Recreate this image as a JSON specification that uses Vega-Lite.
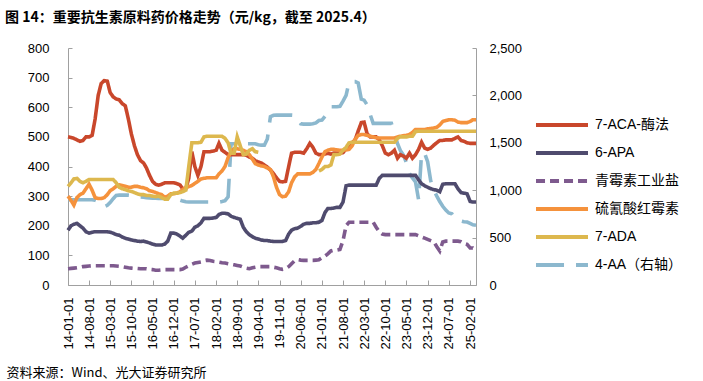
{
  "$schema": "https://vega.github.io/schema/vega-lite/v6.json",
  "autosize": "none",
  "width": 408,
  "height": 237,
  "padding": {"left": 68, "top": 48, "right": 227, "bottom": 96},
  "background": "white",
  "title": {
    "text": "图 14：重要抗生素原料药价格走势（元/kg，截至 2025.4）",
    "anchor": "start",
    "frame": "group",
    "dx": -63,
    "offset": 17,
    "font": "Noto Sans CJK SC",
    "fontSize": 14,
    "fontWeight": "bold",
    "color": "#000000"
  },
  "config": {
    "view": {"stroke": null},
    "axis": {
      "grid": false,
      "domainColor": "#A0A0A0",
      "tickColor": "#A0A0A0",
      "labelFont": "Liberation Sans",
      "labelFontSize": 13,
      "labelColor": "#000000"
    }
  },
  "data": {
    "values": [
      {"d":"2014-01","aca":500,"apa":185,"pen":55,"ery":300,"ada":333,"aa4":900},
      {"d":"2014-02","aca":498,"apa":200,"pen":56,"ery":285,"ada":345,"aa4":900},
      {"d":"2014-03","aca":495,"apa":205,"pen":57,"ery":270,"ada":358,"aa4":900},
      {"d":"2014-04","aca":490,"apa":208,"pen":58,"ery":295,"ada":360,"aa4":900},
      {"d":"2014-05","aca":485,"apa":200,"pen":60,"ery":305,"ada":350,"aa4":900},
      {"d":"2014-06","aca":488,"apa":192,"pen":62,"ery":310,"ada":345,"aa4":900},
      {"d":"2014-07","aca":500,"apa":180,"pen":63,"ery":325,"ada":350,"aa4":900},
      {"d":"2014-08","aca":500,"apa":175,"pen":64,"ery":340,"ada":356,"aa4":900},
      {"d":"2014-09","aca":505,"apa":178,"pen":65,"ery":320,"ada":356,"aa4":900},
      {"d":"2014-10","aca":560,"apa":180,"pen":65,"ery":295,"ada":356,"aa4":895},
      {"d":"2014-11","aca":640,"apa":180,"pen":65,"ery":292,"ada":356,"aa4":880},
      {"d":"2014-12","aca":680,"apa":180,"pen":65,"ery":292,"ada":356,"aa4":850},
      {"d":"2015-01","aca":690,"apa":180,"pen":65,"ery":295,"ada":356,"aa4":825},
      {"d":"2015-02","aca":688,"apa":180,"pen":65,"ery":305,"ada":356,"aa4":840},
      {"d":"2015-03","aca":650,"apa":178,"pen":65,"ery":318,"ada":356,"aa4":870},
      {"d":"2015-04","aca":635,"apa":175,"pen":65,"ery":325,"ada":356,"aa4":910},
      {"d":"2015-05","aca":628,"apa":170,"pen":64,"ery":333,"ada":345,"aa4":945},
      {"d":"2015-06","aca":625,"apa":168,"pen":63,"ery":338,"ada":330,"aa4":948},
      {"d":"2015-07","aca":612,"apa":162,"pen":62,"ery":336,"ada":325,"aa4":948},
      {"d":"2015-08","aca":605,"apa":158,"pen":60,"ery":333,"ada":322,"aa4":948},
      {"d":"2015-09","aca":560,"apa":155,"pen":58,"ery":330,"ada":318,"aa4":948},
      {"d":"2015-10","aca":510,"apa":152,"pen":57,"ery":330,"ada":316,"aa4":945},
      {"d":"2015-11","aca":470,"apa":150,"pen":56,"ery":333,"ada":312,"aa4":935},
      {"d":"2015-12","aca":440,"apa":148,"pen":56,"ery":333,"ada":308,"aa4":930},
      {"d":"2016-01","aca":420,"apa":147,"pen":55,"ery":330,"ada":305,"aa4":928},
      {"d":"2016-02","aca":412,"apa":148,"pen":55,"ery":328,"ada":305,"aa4":925},
      {"d":"2016-03","aca":395,"apa":145,"pen":55,"ery":325,"ada":302,"aa4":920},
      {"d":"2016-04","aca":370,"apa":142,"pen":53,"ery":318,"ada":302,"aa4":918},
      {"d":"2016-05","aca":350,"apa":138,"pen":52,"ery":316,"ada":300,"aa4":915},
      {"d":"2016-06","aca":340,"apa":135,"pen":50,"ery":312,"ada":298,"aa4":915},
      {"d":"2016-07","aca":337,"apa":135,"pen":50,"ery":308,"ada":300,"aa4":912},
      {"d":"2016-08","aca":340,"apa":135,"pen":51,"ery":305,"ada":295,"aa4":912},
      {"d":"2016-09","aca":345,"apa":138,"pen":52,"ery":296,"ada":290,"aa4":912},
      {"d":"2016-10","aca":345,"apa":148,"pen":52,"ery":300,"ada":290,"aa4":912},
      {"d":"2016-11","aca":345,"apa":175,"pen":52,"ery":308,"ada":305,"aa4":912},
      {"d":"2016-12","aca":345,"apa":175,"pen":52,"ery":308,"ada":310,"aa4":910},
      {"d":"2017-01","aca":342,"apa":172,"pen":52,"ery":310,"ada":310,"aa4":905},
      {"d":"2017-02","aca":338,"apa":165,"pen":52,"ery":315,"ada":312,"aa4":895},
      {"d":"2017-03","aca":325,"apa":158,"pen":54,"ery":322,"ada":315,"aa4":885},
      {"d":"2017-04","aca":325,"apa":168,"pen":60,"ery":328,"ada":320,"aa4":878},
      {"d":"2017-05","aca":360,"apa":178,"pen":65,"ery":332,"ada":400,"aa4":875},
      {"d":"2017-06","aca":450,"apa":182,"pen":70,"ery":336,"ada":480,"aa4":875},
      {"d":"2017-07","aca":400,"apa":195,"pen":74,"ery":343,"ada":480,"aa4":875},
      {"d":"2017-08","aca":370,"apa":200,"pen":76,"ery":350,"ada":480,"aa4":875},
      {"d":"2017-09","aca":400,"apa":210,"pen":78,"ery":358,"ada":482,"aa4":875},
      {"d":"2017-10","aca":450,"apa":225,"pen":82,"ery":360,"ada":500,"aa4":875},
      {"d":"2017-11","aca":450,"apa":225,"pen":84,"ery":362,"ada":502,"aa4":875},
      {"d":"2017-12","aca":450,"apa":225,"pen":83,"ery":362,"ada":502,"aa4":875},
      {"d":"2018-01","aca":452,"apa":226,"pen":80,"ery":362,"ada":502,"aa4":875},
      {"d":"2018-02","aca":455,"apa":228,"pen":79,"ery":362,"ada":502,"aa4":875},
      {"d":"2018-03","aca":478,"apa":238,"pen":77,"ery":375,"ada":502,"aa4":875},
      {"d":"2018-04","aca":455,"apa":242,"pen":75,"ery":385,"ada":502,"aa4":880},
      {"d":"2018-05","aca":448,"apa":242,"pen":74,"ery":400,"ada":495,"aa4":890},
      {"d":"2018-06","aca":440,"apa":240,"pen":72,"ery":430,"ada":480,"aa4":930},
      {"d":"2018-07","aca":440,"apa":232,"pen":70,"ery":450,"ada":445,"aa4":1490},
      {"d":"2018-08","aca":440,"apa":228,"pen":68,"ery":460,"ada":445,"aa4":1490},
      {"d":"2018-09","aca":440,"apa":225,"pen":66,"ery":460,"ada":500,"aa4":1490},
      {"d":"2018-10","aca":440,"apa":222,"pen":64,"ery":458,"ada":470,"aa4":1490},
      {"d":"2018-11","aca":440,"apa":195,"pen":60,"ery":455,"ada":440,"aa4":1490},
      {"d":"2018-12","aca":438,"apa":180,"pen":57,"ery":450,"ada":442,"aa4":1490},
      {"d":"2019-01","aca":432,"apa":170,"pen":55,"ery":440,"ada":455,"aa4":1490},
      {"d":"2019-02","aca":428,"apa":163,"pen":58,"ery":425,"ada":460,"aa4":1490},
      {"d":"2019-03","aca":420,"apa":158,"pen":60,"ery":410,"ada":450,"aa4":1490},
      {"d":"2019-04","aca":415,"apa":155,"pen":62,"ery":405,"ada":448,"aa4":1480},
      {"d":"2019-05","aca":412,"apa":152,"pen":62,"ery":402,"ada":null,"aa4":1475},
      {"d":"2019-06","aca":405,"apa":150,"pen":62,"ery":400,"ada":null,"aa4":1475},
      {"d":"2019-07","aca":398,"apa":150,"pen":62,"ery":395,"ada":null,"aa4":1540},
      {"d":"2019-08","aca":388,"apa":148,"pen":62,"ery":390,"ada":null,"aa4":1775},
      {"d":"2019-09","aca":376,"apa":147,"pen":60,"ery":365,"ada":null,"aa4":1790},
      {"d":"2019-10","aca":362,"apa":147,"pen":58,"ery":330,"ada":null,"aa4":1792},
      {"d":"2019-11","aca":350,"apa":147,"pen":55,"ery":305,"ada":null,"aa4":1792},
      {"d":"2019-12","aca":348,"apa":147,"pen":53,"ery":298,"ada":null,"aa4":1792},
      {"d":"2020-01","aca":350,"apa":150,"pen":55,"ery":300,"ada":null,"aa4":1792},
      {"d":"2020-02","aca":400,"apa":172,"pen":62,"ery":315,"ada":null,"aa4":1792},
      {"d":"2020-03","aca":445,"apa":185,"pen":72,"ery":345,"ada":null,"aa4":1792},
      {"d":"2020-04","aca":448,"apa":190,"pen":82,"ery":365,"ada":null,"aa4":1790},
      {"d":"2020-05","aca":448,"apa":192,"pen":86,"ery":375,"ada":null,"aa4":1750},
      {"d":"2020-06","aca":448,"apa":198,"pen":84,"ery":375,"ada":null,"aa4":1700},
      {"d":"2020-07","aca":445,"apa":205,"pen":83,"ery":375,"ada":null,"aa4":1697},
      {"d":"2020-08","aca":460,"apa":208,"pen":83,"ery":375,"ada":null,"aa4":1697},
      {"d":"2020-09","aca":478,"apa":208,"pen":83,"ery":375,"ada":null,"aa4":1697},
      {"d":"2020-10","aca":465,"apa":210,"pen":83,"ery":380,"ada":null,"aa4":1700},
      {"d":"2020-11","aca":445,"apa":210,"pen":84,"ery":390,"ada":null,"aa4":1710},
      {"d":"2020-12","aca":440,"apa":212,"pen":85,"ery":410,"ada":385,"aa4":1735},
      {"d":"2021-01","aca":440,"apa":218,"pen":92,"ery":432,"ada":390,"aa4":1740},
      {"d":"2021-02","aca":442,"apa":245,"pen":98,"ery":450,"ada":400,"aa4":1780},
      {"d":"2021-03","aca":445,"apa":258,"pen":105,"ery":455,"ada":400,"aa4":1830},
      {"d":"2021-04","aca":442,"apa":258,"pen":115,"ery":458,"ada":405,"aa4":1880},
      {"d":"2021-05","aca":445,"apa":260,"pen":118,"ery":458,"ada":440,"aa4":1880},
      {"d":"2021-06","aca":445,"apa":262,"pen":118,"ery":456,"ada":440,"aa4":1880},
      {"d":"2021-07","aca":445,"apa":262,"pen":120,"ery":455,"ada":442,"aa4":1885},
      {"d":"2021-08","aca":447,"apa":280,"pen":150,"ery":455,"ada":455,"aa4":1940},
      {"d":"2021-09","aca":460,"apa":335,"pen":200,"ery":456,"ada":465,"aa4":2000},
      {"d":"2021-10","aca":468,"apa":337,"pen":212,"ery":458,"ada":480,"aa4":2140},
      {"d":"2021-11","aca":480,"apa":337,"pen":212,"ery":470,"ada":482,"aa4":2145},
      {"d":"2021-12","aca":490,"apa":337,"pen":212,"ery":492,"ada":482,"aa4":2145},
      {"d":"2022-01","aca":520,"apa":337,"pen":212,"ery":505,"ada":482,"aa4":2130},
      {"d":"2022-02","aca":548,"apa":337,"pen":212,"ery":508,"ada":482,"aa4":1960},
      {"d":"2022-03","aca":550,"apa":337,"pen":212,"ery":508,"ada":482,"aa4":1950},
      {"d":"2022-04","aca":510,"apa":337,"pen":212,"ery":505,"ada":482,"aa4":1900},
      {"d":"2022-05","aca":500,"apa":337,"pen":212,"ery":502,"ada":482,"aa4":1800},
      {"d":"2022-06","aca":500,"apa":337,"pen":212,"ery":500,"ada":482,"aa4":1705},
      {"d":"2022-07","aca":500,"apa":337,"pen":195,"ery":497,"ada":482,"aa4":1705},
      {"d":"2022-08","aca":490,"apa":360,"pen":180,"ery":496,"ada":482,"aa4":1705},
      {"d":"2022-09","aca":470,"apa":370,"pen":172,"ery":496,"ada":482,"aa4":1705},
      {"d":"2022-10","aca":445,"apa":370,"pen":170,"ery":496,"ada":482,"aa4":1705},
      {"d":"2022-11","aca":440,"apa":370,"pen":170,"ery":496,"ada":482,"aa4":1705},
      {"d":"2022-12","aca":445,"apa":370,"pen":170,"ery":496,"ada":482,"aa4":1705},
      {"d":"2023-01","aca":455,"apa":370,"pen":170,"ery":496,"ada":482,"aa4":1600},
      {"d":"2023-02","aca":428,"apa":370,"pen":170,"ery":500,"ada":495,"aa4":1490},
      {"d":"2023-03","aca":440,"apa":370,"pen":170,"ery":502,"ada":500,"aa4":1420},
      {"d":"2023-04","aca":435,"apa":370,"pen":170,"ery":504,"ada":500,"aa4":1370},
      {"d":"2023-05","aca":428,"apa":370,"pen":170,"ery":505,"ada":500,"aa4":1290},
      {"d":"2023-06","aca":445,"apa":370,"pen":170,"ery":508,"ada":502,"aa4":1175},
      {"d":"2023-07","aca":428,"apa":370,"pen":170,"ery":515,"ada":502,"aa4":1130},
      {"d":"2023-08","aca":440,"apa":370,"pen":170,"ery":525,"ada":518,"aa4":1087},
      {"d":"2023-09","aca":458,"apa":355,"pen":166,"ery":525,"ada":519,"aa4":900},
      {"d":"2023-10","aca":482,"apa":342,"pen":162,"ery":525,"ada":519,"aa4":1390},
      {"d":"2023-11","aca":462,"apa":335,"pen":158,"ery":525,"ada":519,"aa4":1390},
      {"d":"2023-12","aca":458,"apa":330,"pen":154,"ery":527,"ada":519,"aa4":1300},
      {"d":"2024-01","aca":462,"apa":325,"pen":150,"ery":528,"ada":519,"aa4":1100},
      {"d":"2024-02","aca":472,"apa":322,"pen":146,"ery":530,"ada":519,"aa4":1000},
      {"d":"2024-03","aca":480,"apa":320,"pen":130,"ery":532,"ada":519,"aa4":940},
      {"d":"2024-04","aca":488,"apa":315,"pen":115,"ery":540,"ada":519,"aa4":880},
      {"d":"2024-05","aca":488,"apa":340,"pen":145,"ery":552,"ada":519,"aa4":830},
      {"d":"2024-06","aca":490,"apa":342,"pen":148,"ery":555,"ada":519,"aa4":790},
      {"d":"2024-07","aca":490,"apa":342,"pen":148,"ery":558,"ada":519,"aa4":760},
      {"d":"2024-08","aca":490,"apa":342,"pen":148,"ery":558,"ada":519,"aa4":750},
      {"d":"2024-09","aca":495,"apa":342,"pen":148,"ery":556,"ada":519,"aa4":700},
      {"d":"2024-10","aca":500,"apa":325,"pen":148,"ery":550,"ada":519,"aa4":685},
      {"d":"2024-11","aca":488,"apa":312,"pen":146,"ery":548,"ada":519,"aa4":675},
      {"d":"2024-12","aca":485,"apa":310,"pen":140,"ery":548,"ada":519,"aa4":668},
      {"d":"2025-01","aca":480,"apa":308,"pen":137,"ery":548,"ada":519,"aa4":664},
      {"d":"2025-02","aca":478,"apa":282,"pen":125,"ery":552,"ada":519,"aa4":650},
      {"d":"2025-03","aca":478,"apa":280,"pen":125,"ery":558,"ada":519,"aa4":635},
      {"d":"2025-04","aca":478,"apa":280,"pen":118,"ery":558,"ada":519,"aa4":630}
    ],
    "format": {"parse": {"d": "date:'%Y-%m'"}}
  },
  "encoding": {
    "x": {
      "field": "d", "type": "temporal",
      "scale": {"domain": [{"year": 2014, "month": 1, "date": 1}, {"year": 2025, "month": 4, "date": 1}], "nice": false},
      "axis": {
        "values": [
          {"year": 2014, "month": 1, "date": 1}, {"year": 2014, "month": 8, "date": 1},
          {"year": 2015, "month": 3, "date": 1}, {"year": 2015, "month": 10, "date": 1},
          {"year": 2016, "month": 5, "date": 1}, {"year": 2016, "month": 12, "date": 1},
          {"year": 2017, "month": 7, "date": 1}, {"year": 2018, "month": 2, "date": 1},
          {"year": 2018, "month": 9, "date": 1}, {"year": 2019, "month": 4, "date": 1},
          {"year": 2019, "month": 11, "date": 1}, {"year": 2020, "month": 6, "date": 1},
          {"year": 2021, "month": 1, "date": 1}, {"year": 2021, "month": 8, "date": 1},
          {"year": 2022, "month": 3, "date": 1}, {"year": 2022, "month": 10, "date": 1},
          {"year": 2023, "month": 5, "date": 1}, {"year": 2023, "month": 12, "date": 1},
          {"year": 2024, "month": 7, "date": 1}, {"year": 2025, "month": 2, "date": 1}
        ],
        "format": "%y-%m-%d",
        "labelAngle": -90,
        "tickSize": -5,
        "labelPadding": 17,
        "labelOverlap": false,
        "labelFlush": false,
        "labelBound": false,
        "title": "资料来源：Wind、光大证券研究所",
        "titleFont": "Noto Sans CJK SC",
        "titleFontSize": 13,
        "titleFontWeight": "normal",
        "titleColor": "#000000",
        "titleAlign": "left",
        "titleBaseline": "middle",
        "titleAngle": 0,
        "titleX": -62,
        "titleY": 87
      }
    }
  },
  "layer": [
    {
      "transform": [{"fold": ["aa4"], "as": ["series", "value"]}],
      "mark": {"type": "line", "strokeWidth": 3.6, "invalid": "break-paths-show-domains"},
      "encoding": {
        "y": {
          "field": "value", "type": "quantitative",
          "scale": {"domain": [0, 2500], "nice": false},
          "axis": {
            "orient": "right",
            "values": [0, 500, 1000, 1500, 2000, 2500],
            "format": ",d",
            "tickSize": -4,
            "labelPadding": 17,
            "title": null
          }
        },
        "color": {
          "field": "series", "type": "nominal",
          "scale": {
            "domain": ["aca", "apa", "pen", "ery", "ada", "aa4"],
            "range": ["#C9472B", "#4F4B6E", "#7E5A8E", "#F5923C", "#DDB84E", "#8CB8CE"]
          },
          "legend": {
            "orient": "none",
            "legendX": 466,
            "legendY": 70,
            "title": null,
            "symbolType": "stroke",
            "symbolSize": 2700,
            "symbolStrokeWidth": 4,
            "clipHeight": 14,
            "labelFont": "Liberation Sans, Noto Sans CJK SC",
            "labelFontSize": 14,
            "labelColor": "#000000",
            "labelOffset": 5,
            "rowPadding": 14,
            "labelExpr": "{'aca':'7-ACA-酶法','apa':'6-APA','pen':'青霉素工业盐','ery':'硫氰酸红霉素','ada':'7-ADA','aa4':'4-AA（右轴）'}[datum.label]"
          }
        },
        "strokeDash": {
          "field": "series", "type": "nominal",
          "scale": {
            "domain": ["aca", "apa", "pen", "ery", "ada", "aa4"],
            "range": [[1, 0], [1, 0], [9, 5], [1, 0], [1, 0], [28, 12]]
          },
          "legend": null
        }
      }
    },
    {
      "transform": [{"fold": ["aca", "apa", "pen", "ery", "ada"], "as": ["series", "value"]}],
      "mark": {"type": "line", "strokeWidth": 3.6, "invalid": "break-paths-show-domains"},
      "encoding": {
        "y": {
          "field": "value", "type": "quantitative",
          "scale": {"domain": [0, 800], "nice": false},
          "axis": {
            "orient": "left",
            "values": [0, 100, 200, 300, 400, 500, 600, 700, 800],
            "tickSize": -4,
            "labelPadding": 23,
            "title": null
          }
        },
        "color": {"field": "series", "type": "nominal"},
        "strokeDash": {"field": "series", "type": "nominal"}
      }
    }
  ],
  "resolve": {"scale": {"y": "independent"}}
}
